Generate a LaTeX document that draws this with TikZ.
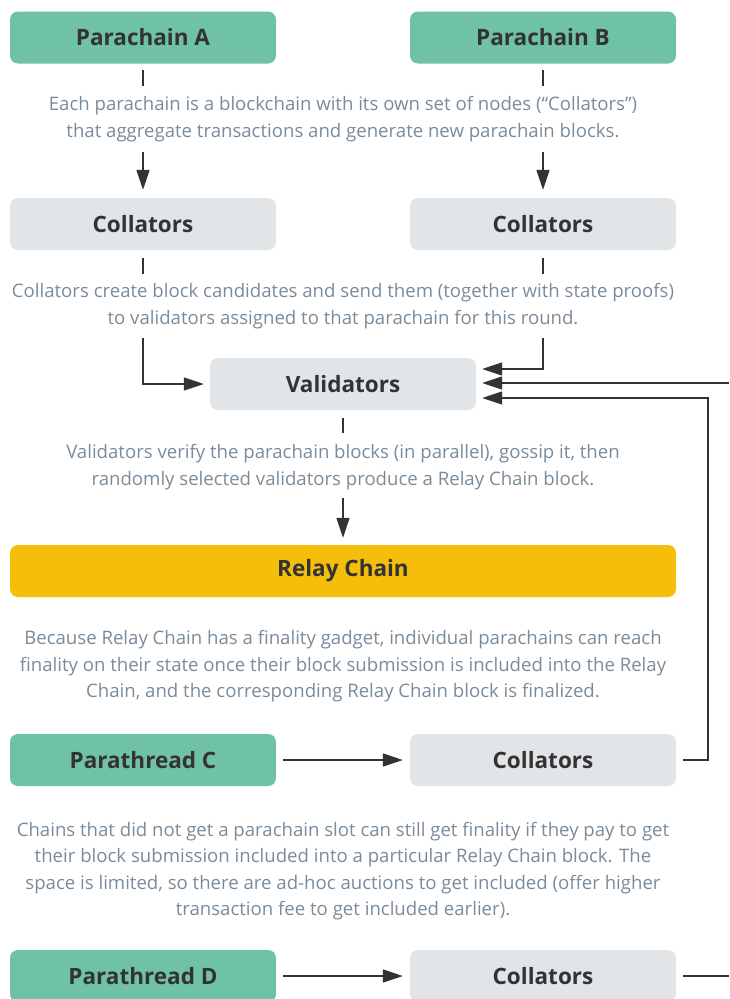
\documentclass[tikz,border=0pt]{standalone}
\usepackage{fontspec}
\setmainfont{Open Sans}
\usetikzlibrary{arrows.meta}
\definecolor{paragreen}{HTML}{6FC2A4}
\definecolor{relayyellow}{HTML}{F4BE0A}
\definecolor{collgray}{HTML}{E2E5E8}
\definecolor{notegray}{HTML}{7A8B99}
\definecolor{labeldark}{HTML}{333333}

\begin{document}
\begin{tikzpicture}[x=1pt,y=-1pt,
    box/.style={rounded corners=8pt, minimum width=266pt, minimum height=52pt,
      inner sep=0pt, text=labeldark, font=\fontsize{22.5}{26}\selectfont\bfseries},
    chainbox/.style={box, fill=paragreen},
    collbox/.style={box, fill=collgray},
    note/.style={text=notegray, align=center, font=\fontsize{18.6}{26.5}\selectfont},
    link/.style={line width=1.5pt, draw=labeldark},
    arr/.style={link, -{Triangle[length=20pt,width=13pt]}}]
                \useasboundingbox (0,0) rectangle (729,999);
                % parachains
                \node[chainbox] (pa) at (143,37.5) {Parachain A};
                \node[chainbox] (pb) at (543,37.5) {Parachain B};
                \node[note] (n1) at (343,119) {Each parachain is a blockchain with its own set of nodes (“Collators”)\\that aggregate transactions and generate new parachain blocks.};
                \node[collbox] (ca) at (143,224) {Collators};
                \node[collbox] (cb) at (543,224) {Collators};
                \node[note] (n2) at (343,306) {Collators create block candidates and send them (together with state proofs)\\to validators assigned to that parachain for this round.};
                \node[collbox] (val) at (343,384) {Validators};
                \node[note] (n3) at (343,467) {Validators verify the parachain blocks (in parallel), gossip it, then\\randomly selected validators produce a Relay Chain block.};
                \node[box, fill=relayyellow, minimum width=666pt] (relay) at (343,571) {Relay Chain};
                \node[note] (n4) at (343,666.5) {Because Relay Chain has a finality gadget, individual parachains can reach\\finality on their state once their block submission is included into the Relay\\Chain, and the corresponding Relay Chain block is finalized.};
                % parathreads
                \node[chainbox] (pc) at (143,760) {Parathread C};
                \node[collbox] (cc) at (543,760) {Collators};
                \node[note] (n5) at (343,871) {Chains that did not get a parachain slot can still get finality if they pay to get\\their block submission included into a particular Relay Chain block. The\\space is limited, so there are ad-hoc auctions to get included (offer higher\\transaction fee to get included earlier).};
                \node[chainbox] (pd) at (143,976) {Parathread D};
                \node[collbox] (cd) at (543,976) {Collators};
                \coordinate (edgeV) at (729,383);
                \coordinate (edgeD) at (729,976);
                % ticks and arrows
                \draw[link] (pa.south) ++(0,6.5) -- ++(0,16);
                \draw[link] (pb.south) ++(0,6.5) -- ++(0,16);
                \draw[arr] (ca.north) ++(0,-46) -- ++(0,38);
                \draw[arr] (cb.north) ++(0,-46) -- ++(0,38);
                \draw[link] (ca.south) ++(0,8) -- ++(0,16);
                \draw[link] (cb.south) ++(0,8) -- ++(0,16);
                \draw[arr] (ca.south) ++(0,88) |- ([xshift=-6pt]val.west);
                \draw[arr] (cb.south) ++(0,88) |- ([xshift=6pt,yshift=15pt]val.east);
                \draw[arr] (edgeV) -- ([xshift=6pt,yshift=1pt]val.east);
                \draw[link] (val.south) ++(0,8) -- ++(0,15);
                \draw[arr] (relay.north) ++(0,-47) -- ++(0,40);
                \draw[arr] ([xshift=7pt]pc.east) -- ([xshift=-7pt]cc.west);
                \draw[arr] (cc.east) ++(7,0) -- ++(25,0) |- ([xshift=6pt,yshift=-14pt]val.east);
                \draw[arr] ([xshift=7pt]pd.east) -- ([xshift=-7pt]cd.west);
                \draw[link] ([xshift=7pt]cd.east) -- (edgeD);
\end{tikzpicture}
\end{document}
